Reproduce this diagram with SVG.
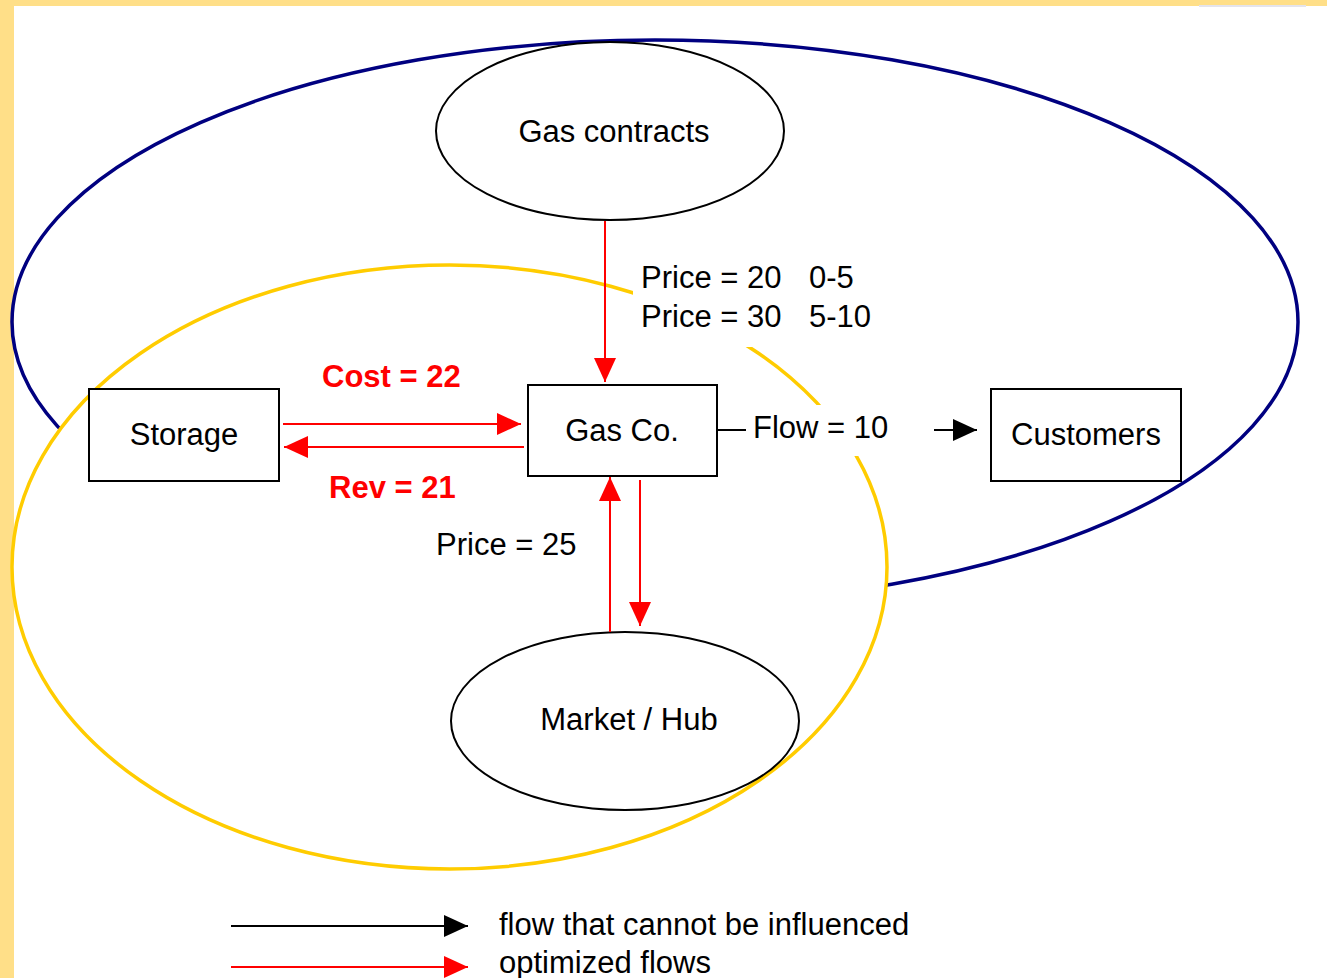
<svg xmlns="http://www.w3.org/2000/svg" width="1327" height="978" viewBox="0 0 1327 978">
<defs>
<style>
text{font-family:"Liberation Sans",Arial,sans-serif;font-size:31px;fill:#000}
.red{fill:#FF0000;font-weight:bold}
.node{fill:#fff;stroke:#000;stroke-width:2}
.r{stroke:#FF0000;stroke-width:2;fill:none}
.k{stroke:#000;stroke-width:2;fill:none}
</style>
<marker id="ar" viewBox="0 0 24 22" refX="24" refY="11" markerWidth="24" markerHeight="22" markerUnits="userSpaceOnUse" orient="auto"><path d="M0,0 L24,11 L0,22 Z" fill="#FF0000"/></marker>
<marker id="ak" viewBox="0 0 24 22" refX="24" refY="11" markerWidth="24" markerHeight="22" markerUnits="userSpaceOnUse" orient="auto"><path d="M0,0 L24,11 L0,22 Z" fill="#000"/></marker>
</defs>
<rect x="0" y="0" width="1327" height="978" fill="#fff"/>
<rect x="0" y="0" width="1327" height="6" fill="#FFDF88"/>
<rect x="0" y="0" width="14" height="978" fill="#FFDF88"/>
<rect x="1199" y="5" width="107" height="2" fill="#E4E4EC"/>
<g id="regions">
<ellipse cx="655" cy="322" rx="643" ry="282" fill="none" stroke="#000080" stroke-width="3.5"/>
<ellipse cx="449.5" cy="567" rx="437.5" ry="302" fill="#fff" stroke="#FFCC00" stroke-width="3.5"/>
</g>
<g id="gas-contracts"><ellipse class="node" cx="610" cy="131" rx="174" ry="89"/><text x="614" y="142" text-anchor="middle">Gas contracts</text></g>
<g id="storage"><rect class="node" x="89" y="389" width="190" height="92"/><text x="184" y="445" text-anchor="middle">Storage</text></g>
<g id="gasco"><rect class="node" x="528" y="385" width="189" height="91"/><text x="622" y="441" text-anchor="middle">Gas Co.</text></g>
<g id="customers"><rect class="node" x="991" y="389" width="190" height="92"/><text x="1086" y="445" text-anchor="middle">Customers</text></g>
<g id="market"><ellipse class="node" cx="625" cy="721" rx="174" ry="89"/><text x="629" y="730" text-anchor="middle">Market / Hub</text></g>
<g id="connectors">
<line class="r" x1="605" y1="221" x2="605" y2="382" marker-end="url(#ar)"/>
<line class="r" x1="283" y1="424" x2="521" y2="424" marker-end="url(#ar)"/>
<line class="r" x1="524" y1="447" x2="284" y2="447" marker-end="url(#ar)"/>
<line class="r" x1="610" y1="632" x2="610" y2="477" marker-end="url(#ar)"/>
<line class="r" x1="640" y1="480" x2="640" y2="626" marker-end="url(#ar)"/>
<line class="k" x1="717" y1="430" x2="977" y2="430" marker-end="url(#ak)"/>
<rect x="746" y="405" width="188" height="51" fill="#fff"/>
<text x="753" y="438">Flow = 10</text>
<rect x="633" y="262" width="245" height="85" fill="#fff"/>
<text x="641" y="288">Price = 20<tspan x="809">0-5</tspan></text>
<text x="641" y="327">Price = 30<tspan x="809">5-10</tspan></text>
<text class="red" x="322" y="387">Cost = 22</text>
<text class="red" x="329" y="498">Rev = 21</text>
<text x="436" y="555">Price = 25</text>
</g>
<g id="legend">
<line class="k" x1="231" y1="926" x2="468" y2="926" marker-end="url(#ak)"/>
<line class="r" x1="231" y1="967" x2="468" y2="967" marker-end="url(#ar)"/>
<text x="499" y="935">flow that cannot be influenced</text>
<text x="499" y="973">optimized flows</text>
</g>
</svg>
